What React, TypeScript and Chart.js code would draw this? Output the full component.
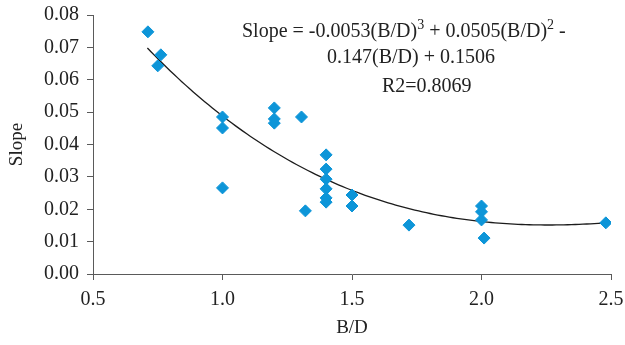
import React, { useEffect, useRef } from "react";
import { Chart, registerables } from "chart.js";

Chart.register(...registerables);

// Observed points (B/D, Slope)
const bdValues: number[] = [
  0.712, 0.75, 0.762,
  1.0, 1.0, 1.0,
  1.2, 1.2, 1.2,
  1.305, 1.32,
  1.4, 1.4, 1.4, 1.4, 1.4, 1.4,
  1.5, 1.5,
  1.72,
  2.0, 2.0, 2.0, 2.01,
  2.48,
];
const slopeValues: number[] = [
  0.0748, 0.0643, 0.0677,
  0.0485, 0.0451, 0.0266,
  0.0513, 0.0479, 0.0466,
  0.0485, 0.0195,
  0.0368, 0.0324, 0.0293, 0.0263, 0.0235, 0.0222,
  0.0244, 0.021,
  0.0151,
  0.021, 0.0192, 0.0167, 0.0111,
  0.0158,
];

// Polynomial trendline coefficients shown on the chart (x^3, x^2, x, 1)
const trendCoefficients: number[] = [-0.0053, 0.0505, -0.147, 0.1506];
const trendRange: number[] = [0.71, 2.48];

const xTickValues: number[] = [0.5, 1.0, 1.5, 2.0, 2.5];
const yTickValues: number[] = [0, 0.01, 0.02, 0.03, 0.04, 0.05, 0.06, 0.07, 0.08];

const FONT = "'Liberation Serif', 'Times New Roman', serif";
const AXIS_COLOR = "#5a5a5a";
const TEXT_COLOR = "#222222";
const POINT_COLOR = "#0d95d8";

function trendAt(x: number): number {
  const [a, b, c, d] = trendCoefficients;
  return a * x * x * x + b * x * x + c * x + d;
}

function buildTrend(): { x: number; y: number }[] {
  const pts: { x: number; y: number }[] = [];
  const [lo, hi] = trendRange;
  const n = 120;
  for (let i = 0; i <= n; i++) {
    const x = lo + ((hi - lo) * i) / n;
    pts.push({ x, y: trendAt(x) });
  }
  return pts;
}

const equationPlugin = {
  id: "equationLabel",
  afterDatasetsDraw(chart: any) {
    const ctx = chart.ctx as CanvasRenderingContext2D;
    const main = `20px ${FONT}`;
    const sup = `14px ${FONT}`;
    ctx.save();
    ctx.fillStyle = TEXT_COLOR;
    ctx.textBaseline = "alphabetic";
    ctx.textAlign = "left";

    const segs: [string, boolean][] = [
      ["Slope = -0.0053(B/D)", false],
      ["3", true],
      [" + 0.0505(B/D)", false],
      ["2", true],
      [" -", false],
    ];
    let x = 242;
    const y1 = 37;
    for (const [t, isSup] of segs) {
      ctx.font = isSup ? sup : main;
      ctx.fillText(t, x, isSup ? y1 - 8 : y1);
      x += ctx.measureText(t).width;
    }

    ctx.font = main;
    ctx.textAlign = "center";
    ctx.fillText("0.147(B/D) + 0.1506", 411, 63);
    ctx.textAlign = "left";
    ctx.fillText("R2=0.8069", 382, 92);
    ctx.restore();
  },
};

export default function App() {
  const canvasRef = useRef<HTMLCanvasElement | null>(null);

  useEffect(() => {
    if (!canvasRef.current) return;
    const points = bdValues.map((v, i) => ({ x: v, y: slopeValues[i] }));
    const chart = new Chart(canvasRef.current, {
      type: "scatter",
      data: {
        datasets: [
          {
            type: "line",
            label: "Trend",
            data: buildTrend(),
            borderColor: "#1c1c1c",
            borderWidth: 1.3,
            pointRadius: 0,
            fill: false,
            tension: 0,
            order: 2,
          } as any,
          {
            label: "Slope",
            data: points,
            pointStyle: "rectRot",
            pointRadius: 6,
            backgroundColor: POINT_COLOR,
            borderColor: POINT_COLOR,
            borderWidth: 1,
            order: 1,
          },
        ],
      },
      options: {
        responsive: false,
        animation: false,
        layout: { padding: { left: 0, right: 0, top: 15, bottom: 0 } },
        plugins: {
          legend: { display: false },
          tooltip: { enabled: false },
        },
        scales: {
          x: {
            type: "linear",
            min: 0.5,
            max: 2.5,
            afterBuildTicks: (scale: any) => {
              scale.ticks = xTickValues.map((v) => ({ value: v }));
            },
            afterFit: (scale: any) => {
              scale.height = 71;
              scale.paddingLeft = 0;
              scale.paddingRight = 14;
            },
            ticks: {
              callback: (v: any) => Number(v).toFixed(1),
              font: { family: FONT, size: 20 },
              color: TEXT_COLOR,
              padding: 8,
              maxRotation: 0,
            },
            grid: {
              drawOnChartArea: false,
              drawTicks: true,
              tickLength: 6,
              color: AXIS_COLOR,
            },
            border: { display: true, color: AXIS_COLOR, width: 1 },
            title: {
              display: true,
              text: "B/D",
              font: { family: FONT, size: 19 },
              color: TEXT_COLOR,
              padding: { top: 0, bottom: 6 },
            },
          },
          y: {
            type: "linear",
            min: 0,
            max: 0.08,
            afterBuildTicks: (scale: any) => {
              scale.ticks = yTickValues.map((v) => ({ value: v }));
            },
            afterFit: (scale: any) => {
              scale.width = 93;
              scale.paddingTop = 0;
              scale.paddingBottom = 0;
            },
            ticks: {
              callback: (v: any) => Number(v).toFixed(2),
              font: { family: FONT, size: 20 },
              color: TEXT_COLOR,
              padding: 8,
            },
            grid: {
              drawOnChartArea: false,
              drawTicks: true,
              tickLength: 6,
              color: AXIS_COLOR,
            },
            border: { display: true, color: AXIS_COLOR, width: 1 },
            title: {
              display: true,
              text: "Slope",
              font: { family: FONT, size: 19 },
              color: TEXT_COLOR,
              padding: { top: 6, bottom: 0 },
            },
          },
        },
      },
      plugins: [equationPlugin],
    });
    return () => chart.destroy();
  }, []);

  return (
    <div style={{ position: "absolute", left: 0, top: 0, width: 625, height: 345, background: "#ffffff" }}>
      <canvas ref={canvasRef} width={625} height={345} />
    </div>
  );
}
